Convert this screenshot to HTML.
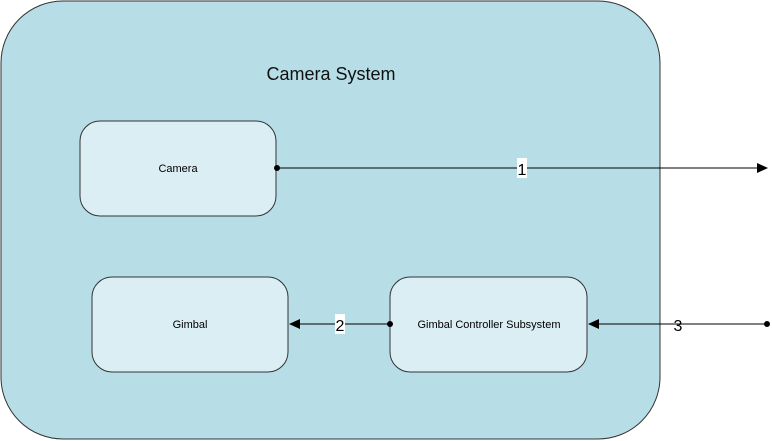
<!DOCTYPE html>
<html><head><style>body{margin:0;background:#fff}</style></head><body>
<svg width="772" height="441" xmlns="http://www.w3.org/2000/svg" style="display:block;font-family:'Liberation Sans',sans-serif">
<rect x="1" y="1" width="659" height="438" rx="62" ry="62" fill="#b7dde7" stroke="#333" stroke-width="1"/>
<text x="331" y="80" font-size="18" text-anchor="middle" fill="#111">Camera System</text>
<rect x="80" y="121" width="196" height="95" rx="20" fill="#dbeef3" stroke="#333"/>
<text x="178" y="172" font-size="11" text-anchor="middle">Camera</text>
<rect x="92" y="277" width="196" height="95" rx="20" fill="#dbeef3" stroke="#333"/>
<text x="190" y="328" font-size="11" text-anchor="middle">Gimbal</text>
<rect x="390" y="277" width="197" height="95" rx="20" fill="#dbeef3" stroke="#333"/>
<text x="489" y="328" font-size="11" text-anchor="middle">Gimbal Controller Subsystem</text>
<line x1="277" y1="168" x2="758" y2="168" stroke="#000"/>
<polygon points="768,168 757,163 757,173" fill="#000"/>
<circle cx="277" cy="168" r="3" fill="#000"/>
<rect x="517" y="158" width="10" height="20" fill="#fff"/>
<text x="522" y="175" font-size="16" text-anchor="middle">1</text>
<line x1="390" y1="324" x2="298" y2="324" stroke="#000"/>
<polygon points="289,324 300,319 300,329" fill="#000"/>
<circle cx="390" cy="324" r="3" fill="#000"/>
<rect x="335" y="314" width="10" height="20" fill="#fff"/>
<text x="340" y="331" font-size="16" text-anchor="middle">2</text>
<line x1="767" y1="324" x2="597" y2="324" stroke="#000"/>
<polygon points="588,324 599,319 599,329" fill="#000"/>
<circle cx="767" cy="324" r="3" fill="#000"/>
<text x="678" y="331" font-size="16" text-anchor="middle">3</text>
</svg>
</body></html>
